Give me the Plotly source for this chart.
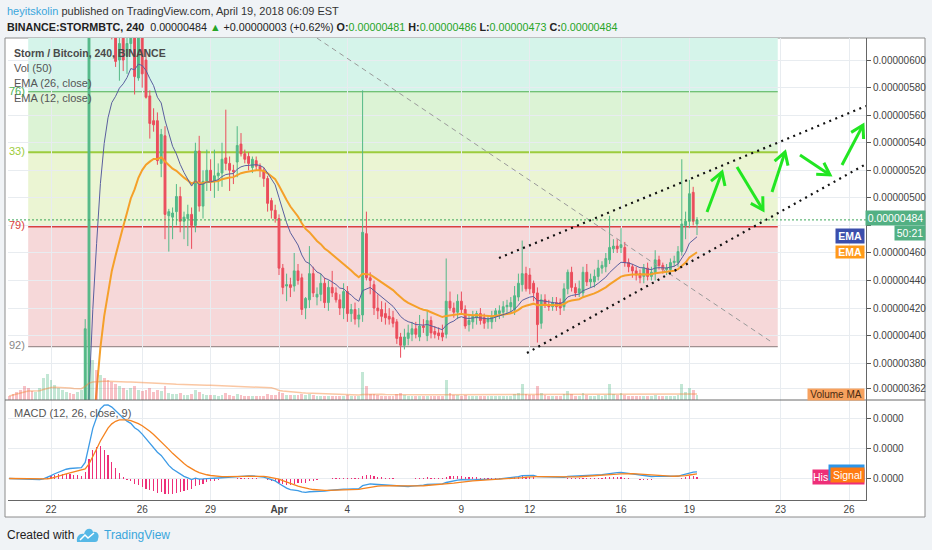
import plotly.graph_objects as go
import pandas as pd

W, H = 932, 550
FONT = "Liberation Sans, Arial, sans-serif"

# ---------------- data (prices in satoshi, 4h candles from 2018-03-20 04:00) ----------------
opens = [226,225,222,220,218,216,215,214,216,222, 235,252,268,278,285,290,292,290,288,290,
         292,340,700,760,730,750,700,660,630,600, 625,603,612,630,587,616,600,574,556,556,
         525,545,487,486,490,501,483,485,488,480, 534,494,512,520,512,516,518,529,525,520,
         526,539,532,530,522,527,523,520,514,498, 491,485,449,436,437,436,447,442,420,426,
         445,428,430,438,424,435,431,426,420,432, 416,419,412,415,474,442,437,420,419,416,
         414,413,410,399,393,398,401,405,399,407, 400,411,403,402,402,401,425,420,417,425,
         419,408,410,413,416,413,410,410,414,416, 417,421,421,419,428,437,445,444,438,431,
         409,426,422,421,424,424,421,434,446,435, 431,431,446,439,439,443,449,450,455,463,
         465,464,464,453,450,447,445,443,449,443, 445,455,451,448,448,453,453,461,480,483,
         504,481]
highs = [230,227,224,222,220,218,217,219,225,238, 256,272,282,290,295,297,295,292,294,296,
         412,760,790,800,780,770,720,680,650,625, 635,618,640,640,630,625,608,578,565,562,
         550,552,492,493,510,508,490,495,493,540, 545,520,535,528,535,525,540,564,530,524,
         552,547,535,533,530,530,525,522,516,500, 495,488,452,445,442,460,452,445,428,465,
         450,435,445,442,440,447,435,430,438,436, 423,424,420,578,490,446,440,430,425,424,
         420,418,412,402,405,408,410,410,415,412, 418,414,407,406,408,456,432,424,430,432,
         422,415,418,418,420,416,415,418,420,422, 425,426,428,436,445,469,450,449,440,435,
         430,430,426,428,428,427,438,448,450,438, 440,450,452,445,448,455,454,460,487,470,
         470,478,468,456,452,450,448,452,453,450, 462,458,453,452,456,458,465,528,490,513,
         508,486]
lows = [221,219,217,215,213,212,211,212,214,220, 233,250,265,275,282,287,286,284,285,287,
        288,335,680,700,690,680,640,615,595,585, 592,590,605,575,585,580,572,543,548,524,
        515,470,461,470,480,475,470,465,463,475, 490,485,505,505,500,505,508,520,505,510,
        515,530,525,520,518,520,515,508,490,485, 482,444,430,425,428,432,437,415,412,420,
        428,422,425,420,418,428,424,415,412,410, 410,408,406,410,440,430,415,412,410,408,
        408,406,394,384,390,393,396,398,396,402, 396,398,398,397,396,398,418,413,412,416,
        405,403,405,408,408,405,405,405,410,412, 413,416,417,415,425,432,432,430,425,395,
        405,420,418,418,418,415,418,430,432,428, 428,428,436,435,435,440,445,446,452,460,
        460,460,450,446,442,440,438,438,440,440, 440,448,445,444,445,450,450,458,470,478,
        480,473]
closes = [225,222,220,218,216,215,214,216,222,235, 252,268,278,285,290,292,290,288,290,292,
          405,700,760,730,750,700,660,630,599,612, 600,612,630,588,620,590,573,554,553,527,
          546,488,490,489,501,483,486,488,480,534, 494,512,520,512,516,518,528,525,520,519,
          538,532,528,525,528,523,520,514,496,491, 485,449,435,437,435,447,440,419,427,445,
          431,430,438,424,435,431,426,420,432,416, 419,412,415,475,442,440,420,418,414,413,
          412,409,398,393,399,402,405,401,407,406, 411,402,401,400,399,425,420,417,425,419,
          407,411,414,416,411,409,412,414,418,418, 421,422,424,429,438,445,434,434,431,408,
          426,422,421,424,421,420,434,446,435,431, 434,446,439,441,443,449,451,456,464,465,
          463,466,453,450,447,444,442,449,443,446, 455,451,448,449,453,454,461,481,483,503,
          483,484]
volumes = [8,12,16,20,28,24,18,16,24,44, 52,40,30,24,20,16,14,12,16,20,
           120,170,80,60,50,44,40,36,32,28, 24,20,24,28,20,18,20,24,16,20,
           18,28,14,12,12,14,10,10,12,20, 16,12,10,10,10,8,10,14,10,8,
           12,10,8,8,8,8,8,8,12,10, 10,16,14,10,10,10,10,12,10,12,
           10,8,8,8,8,8,8,8,8,10, 8,8,8,56,28,12,12,10,8,8,
           8,8,12,14,10,8,8,8,8,8, 8,8,8,8,8,40,14,10,10,8,
           10,8,8,8,8,8,8,8,8,8, 8,8,8,12,14,32,12,10,10,28,
           14,10,8,8,8,8,12,18,12,8, 8,14,10,8,8,10,8,10,32,12,
           10,14,10,8,8,8,8,8,8,8, 10,8,8,8,8,8,10,32,16,24,
           20,10]

start_time = "2018-03-20 04:00"
x_range = ["2018-03-20 02:44", "2018-04-26 17:54"]
tick_dates = ["2018-03-22", "2018-03-26", "2018-03-29", "2018-04-01", "2018-04-04", "2018-04-09",
              "2018-04-12", "2018-04-16", "2018-04-19", "2018-04-23", "2018-04-26"]
tick_text = ["22", "26", "29", "<b>Apr</b>", "4", "9", "12", "16", "19", "23", "26"]
price_ticks = [362, 380, 400, 420, 440, 460, 480, 500, 520, 540, 560, 580, 600]
hidden_ticks = [480]          # label covered by the last-price box in the reference
price_range = [353.3, 616.0]
last_price = 484

# fib retracement levels (satoshi) and zones
fib_levels = [577, 533, 479, 392]
fib_top = 640
fib_start, fib_end = "2018-03-21 00:00", "2018-04-22 21:00"
fib_labels = ["76)", "33)", "79)", "92)"]

# drawings: (days after 2018-03-22 00:00, price in satoshi)
dash_line = [(11.667, 615.9), (31.667, 394.7)]
channel_upper = [(19.649, 456.3), (35.746, 566.6)]
channel_lower = [(20.877, 387.4), (35.746, 524.5)]
arrows = [  # tail, tip, wing1, wing2
    [(28.772, 489.7), (29.430, 518.7), (28.947, 512.2), (29.561, 508.6)],
    [(30.088, 522.4), (31.228, 491.2), (31.219, 501.2), (30.693, 496.0)],
    [(31.623, 504.2), (32.193, 533.2), (32.325, 523.4), (31.737, 526.6)],
    [(32.851, 531.1), (34.167, 516.6), (33.899, 525.5), (33.561, 517.1)],
    [(34.693, 523.8), (35.614, 552.8), (35.640, 542.7), (35.096, 547.5)],
]

# ---------------- derived ----------------
SAT = 1e-8
n = len(closes)
times = pd.date_range(start_time, periods=n, freq="4h")
base = pd.Timestamp("2018-03-22 00:00")
def dt(d):
    return base + pd.Timedelta(days=d)

cs = pd.Series(closes, dtype=float)
ema12 = cs.ewm(span=12, adjust=False).mean()
ema26 = cs.ewm(span=26, adjust=False).mean()
macd = ema12 - ema26
signal = macd.ewm(span=9, adjust=False).mean()
hist = macd - signal
vol_ma = pd.Series(volumes, dtype=float).rolling(50, min_periods=1).mean()

def s(v):
    return [a * SAT for a in v]

def px(xp):
    return xp / W
def py(yp):
    return 1 - yp / H

G = "#53b987"
R = "#eb4d5c"

fig = go.Figure()

# volume (overlay axis)
vol_colors = ["rgba(83,185,135,0.35)" if c >= o else "rgba(235,77,92,0.35)" for o, c in zip(opens, closes)]
fig.add_trace(go.Bar(x=times, y=volumes, marker=dict(color=vol_colors, line=dict(width=0)),
                     width=4 * 3600 * 1000 * 0.7, xaxis="x", yaxis="y3", hoverinfo="skip"))
fig.add_trace(go.Scatter(x=times, y=vol_ma, mode="lines", line=dict(color="rgba(245,130,50,0.45)", width=1.5),
                         xaxis="x", yaxis="y3", hoverinfo="skip"))

# candles
fig.add_trace(go.Candlestick(
    x=times, open=s(opens), high=s(highs), low=s(lows), close=s(closes),
    increasing=dict(line=dict(color=G, width=1), fillcolor=G),
    decreasing=dict(line=dict(color=R, width=1), fillcolor=R),
    whiskerwidth=0, xaxis="x", yaxis="y", hoverinfo="skip"))

# EMAs
fig.add_trace(go.Scatter(x=times, y=ema26 * SAT, mode="lines", line=dict(color="#f5a02a", width=2),
                         xaxis="x", yaxis="y", hoverinfo="skip"))
fig.add_trace(go.Scatter(x=times, y=ema12 * SAT, mode="lines", line=dict(color="#5a5f9e", width=1),
                         xaxis="x", yaxis="y", hoverinfo="skip"))

# trend lines
def line_trace(pts, color, width, dash):
    return go.Scatter(x=[dt(p[0]) for p in pts], y=[p[1] * SAT for p in pts], mode="lines",
                      line=dict(color=color, width=width, dash=dash), xaxis="x", yaxis="y",
                      hoverinfo="skip", cliponaxis=True)
fig.add_trace(line_trace(dash_line, "#9a9a9a", 1, "5px,4px"))
fig.add_trace(line_trace(channel_upper, "#111111", 2.2, "2px,4.5px"))
fig.add_trace(line_trace(channel_lower, "#111111", 2.2, "2px,4.5px"))

# arrows
ax_, ay_ = [], []
for tail, tip, w1, w2 in arrows:
    for p in (tail, tip, None, w1, tip, w2, None):
        if p is None:
            ax_.append(None); ay_.append(None)
        else:
            ax_.append(dt(p[0])); ay_.append(p[1] * SAT)
fig.add_trace(go.Scatter(x=ax_, y=ay_, mode="lines", line=dict(color="#22e622", width=3),
                         xaxis="x", yaxis="y", hoverinfo="skip", connectgaps=False))

# MACD
hist_w = 4 * 3600 * 1000 * 0.3
fig.add_trace(go.Bar(x=times, y=hist, marker=dict(color="#ee2f78", line=dict(width=0)), width=hist_w,
                     xaxis="x2", yaxis="y2", hoverinfo="skip"))
fig.add_trace(go.Scatter(x=times, y=macd, mode="lines", line=dict(color="#3d9be6", width=1.3),
                         xaxis="x2", yaxis="y2", hoverinfo="skip"))
fig.add_trace(go.Scatter(x=times, y=signal, mode="lines", line=dict(color="#f5831f", width=1.3),
                         xaxis="x2", yaxis="y2", hoverinfo="skip"))

peak = float(macd.max())
span = peak / 0.735
macd_range = [-0.215 * span, 0.785 * span]
macd_ticks = [0, 0.3 * span, 0.6 * span]

# ---------------- shapes ----------------
shapes = []
# outer frame
shapes.append(dict(type="rect", xref="paper", yref="paper", x0=px(5), x1=px(925), y0=py(517), y1=py(38),
                   fillcolor="white", line=dict(color="#8c8c8c", width=1), layer="below"))
# fib zones
zone_cols = ["#d5f4ea", "#dcf3d5", "#ebf5d3", "#f6d8d9"]
bounds = [fib_top] + fib_levels
for i, col in enumerate(zone_cols):
    shapes.append(dict(type="rect", xref="x", yref="y", x0=fib_start, x1=fib_end,
                       y0=bounds[i + 1] * SAT, y1=bounds[i] * SAT, fillcolor=col, line=dict(width=0), layer="below"))
fib_cols = ["#4caf50", "#9ccc3c", "#d94040", "#a09090"]
fib_w = [1.2, 2, 1.5, 1.2]
for lv, col, w in zip(fib_levels, fib_cols, fib_w):
    shapes.append(dict(type="line", xref="x", yref="y", x0=fib_start, x1=fib_end, y0=lv * SAT, y1=lv * SAT,
                       line=dict(color=col, width=w), layer="below"))
# last price dotted line
shapes.append(dict(type="line", xref="paper", yref="y", x0=px(8), x1=px(866), y0=last_price * SAT,
                   y1=last_price * SAT, line=dict(color="#3aa757", width=1, dash="2px,2px")))
# pane separator
shapes.append(dict(type="line", xref="paper", yref="paper", x0=px(5), x1=px(925), y0=py(400), y1=py(400),
                   line=dict(color="#6b6b6b", width=1)))

# TradingView logo
def ppath(parts):
    out = []
    for cmd, pts in parts:
        out.append(cmd + " " + " ".join("%.5f,%.5f" % (px(a), py(b)) for a, b in pts))
    return " ".join(out) + " Z"
logo = ppath([("M", [(77, 542)]), ("C", [(76, 536), (80, 533), (84, 534)]),
              ("C", [(85, 528), (92, 527), (93, 532)]), ("C", [(97, 531), (100, 535), (98, 539)]),
              ("C", [(98, 541), (97, 542), (95, 542)])])
shapes.append(dict(type="path", xref="paper", yref="paper", path=logo, fillcolor="#56b8e6",
                   line=dict(width=0)))
zig = " ".join([("M" if k == 0 else "L") + " %.5f,%.5f" % (px(a), py(b))
                for k, (a, b) in enumerate([(80, 540), (85, 535), (88, 538), (94, 533)])])
shapes.append(dict(type="path", xref="paper", yref="paper", path=zig, line=dict(color="white", width=1.5)))

# ---------------- annotations ----------------
ann = []
def text(x, y, t, size=11, color="#444", xanchor="left", bold=False, **kw):
    ann.append(dict(x=px(x), y=py(y), xref="paper", yref="paper", text=("<b>%s</b>" % t) if bold else t,
                    showarrow=False, xanchor=xanchor, yanchor="middle",
                    font=dict(family=FONT, size=size, color=color), **kw))

text(5, 11, '<span style="color:#3aa6dc">heyitskolin</span> published on TradingView.com, April 19, 2018 06:09 EST',
     size=11, color="#333")
gc = "#27a527"
text(5, 27, "<b>BINANCE:STORMBTC, 240</b>  0.00000484 <span style='color:%s'>▲</span> +0.00000003 (+0.62%%) "
     "<b>O:</b><span style='color:%s'>0.00000481</span> <b>H:</b><span style='color:%s'>0.00000486</span> "
     "<b>L:</b><span style='color:%s'>0.00000473</span> <b>C:</b><span style='color:%s'>0.00000484</span>"
     % (gc, gc, gc, gc, gc), size=10.75, color="#222")

text(12, 53, "Storm / Bitcoin, 240, BINANCE", size=10.5, color="#4a4a4a", bold=True)
text(12, 68, "Vol (50)", size=11, color="#555")
text(12, 83, "EMA (26, close)", size=11, color="#555")
text(12, 98, "EMA (12, close)", size=11, color="#555")

fib_label_y = [91, 151, 225, 345]
for lab, yy, col in zip(fib_labels, fib_label_y, ["#4caf50", "#9ccc3c", "#d94040", "#888"]):
    text(27, yy, lab, size=11, color=col, xanchor="right")

def box(xc, yc, w, h, t, bg, color="white", size=10.5, bold=True, align="center"):
    ann.append(dict(x=px(xc), y=py(yc), xref="paper", yref="paper", text=("<b>%s</b>" % t) if bold else t,
                    showarrow=False, xanchor="center", yanchor="middle", width=w, height=h, align=align,
                    bgcolor=bg, borderpad=0, font=dict(family=FONT, size=size, color=color)))

box(895.5, 218.5, 59, 14, "0.00000484", "#52b083", bold=False, size=10.5)
box(910, 233, 30, 14, "50:21", "#52b083", bold=False, size=10.5)
box(850, 236, 28, 14, "EMA", "#3b4eab")
box(850, 252, 28, 12, "EMA", "#ff9a1a")
box(836, 394, 56, 11, "Volume MA", "#f7a15e", color="#4a2a10", bold=False, size=10)
box(838.5, 477, 51, 14, "His", "#ee2f78", bold=False, align="left")
box(846.5, 472, 35, 15, "", "#2d95e8")
box(847.5, 474.5, 33, 14, "Signal", "#ff7b12", bold=False)

text(12, 413, "MACD (12, 26, close, 9)", size=11, color="#555")

text(5, 535, "Created with", size=12, color="#222")
text(102, 535, "TradingView", size=12, color="#3aa6dc")

# ---------------- layout ----------------
xdom = [px(8), px(866)]
grid = "#e8ecf0"
price_text = ["" if v in hidden_ticks else "%.8f" % (v * SAT) for v in price_ticks]
fig.update_layout(
    width=W, height=H, margin=dict(l=0, r=0, t=0, b=0),
    paper_bgcolor="#f0f3f6", plot_bgcolor="rgba(0,0,0,0)",
    showlegend=False, hovermode=False, bargap=0,
    font=dict(family=FONT, size=10, color="#444"),
    xaxis=dict(domain=xdom, anchor="y", type="date", range=x_range, tickvals=tick_dates,
               showticklabels=False, showgrid=True, gridcolor=grid, zeroline=False,
               rangeslider=dict(visible=False), ticks=""),
    yaxis=dict(domain=[py(400), py(38)], anchor="x", side="right", range=[price_range[0] * SAT, price_range[1] * SAT],
               tickvals=[v * SAT for v in price_ticks], ticktext=price_text, ticks="outside", ticklen=4,
               tickcolor="#555", tickfont=dict(size=10, color="#444"), showline=True, linecolor="#666",
               showgrid=True, gridcolor=grid, zeroline=False),
    yaxis3=dict(overlaying="y", range=[0, 724], visible=False, showgrid=False),
    xaxis2=dict(domain=xdom, anchor="y2", type="date", range=x_range, tickvals=tick_dates, ticktext=tick_text,
                tickfont=dict(size=10, color="#444"), showgrid=True, gridcolor=grid, zeroline=False,
                showline=True, linecolor="#666", ticks=""),
    yaxis2=dict(domain=[py(500), py(400)], anchor="x2", side="right", range=macd_range, tickvals=macd_ticks,
                ticktext=["0.0000"] * 3, ticks="outside", ticklen=4, tickcolor="#555",
                tickfont=dict(size=10, color="#444"), showline=True, linecolor="#666",
                showgrid=True, gridcolor=grid, zeroline=False),
    shapes=shapes, annotations=ann,
)

fig.write_html("out.html", config={"displayModeBar": False, "staticPlot": True},
               post_script="document.body.style.margin='0';document.body.style.overflow='hidden';")
